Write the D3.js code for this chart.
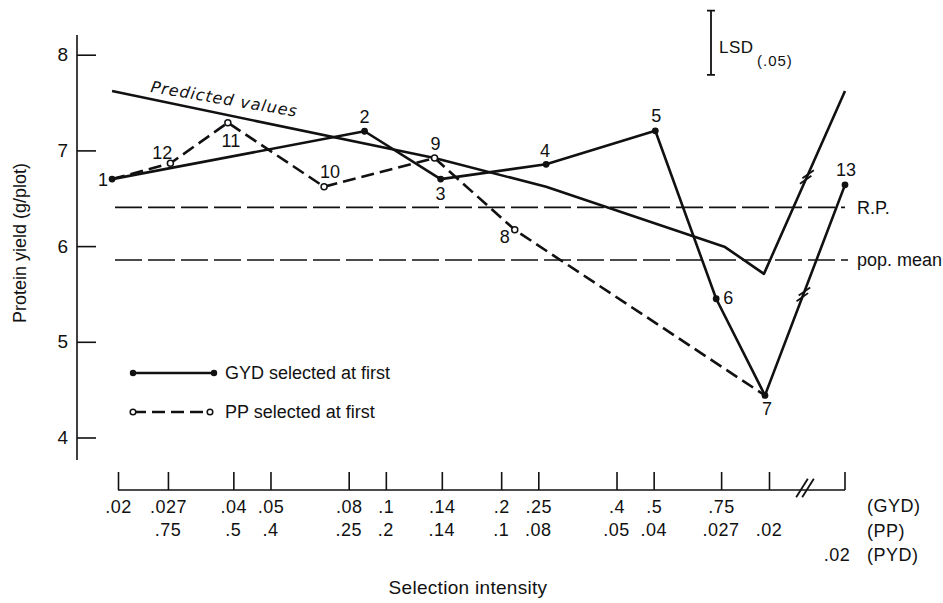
<!DOCTYPE html>
<html>
<head>
<meta charset="utf-8">
<script src="https://cdn.jsdelivr.net/npm/d3@7"></script>
<style>
  body { margin: 0; background: #fff; }
  svg { display: block; }
  text { font-family: "Liberation Sans Narrow", "Liberation Sans", Arial, sans-serif; font-stretch: condensed; fill: #111; }
</style>
</head>
<body>
<div id="chart"></div>
<script>
// selection intensity ticks (GYD scale, PP is the reciprocal reading)
var gydTicks = [0.02, 0.027, 0.04, 0.05, 0.08, 0.1, 0.14, 0.2, 0.25, 0.4, 0.5, 0.75, 1.0];
var gydLabels = [".02", ".027", ".04", ".05", ".08", ".1", ".14", ".2", ".25", ".4", ".5", ".75", ""];
var ppLabels = ["", ".75", ".5", ".4", ".25", ".2", ".14", ".1", ".08", ".05", ".04", ".027", ".02"];
var pydLabel = ".02";
var yTicks = [4, 5, 6, 7, 8];

// GYD selected at first (solid, filled dots); last point sits past the axis break
var gydIds = ["1", "2", "3", "4", "5", "6", "7"];
var gydX = [0.0193, 0.088, 0.139, 0.262, 0.505, 0.728, 0.976];
var gydY = [6.70, 7.20, 6.70, 6.855, 7.205, 5.45, 4.44];
var pydId = "13";
var pydY = 6.64;

// PP selected at first (dashed, open circles)
var ppIds = ["1", "12", "11", "10", "9", "8", "7"];
var ppX = [0.0193, 0.0274, 0.0387, 0.069, 0.134, 0.217, 0.976];
var ppY = [6.70, 6.865, 7.29, 6.62, 6.92, 6.17, 4.44];

// predicted values
var predX = [0.0193, 0.134, 0.262, 0.768, 0.97];
var predY = [7.62, 6.92, 6.62, 5.99, 5.71];
var predPydY = 7.62;

// reference levels
var rpValue = 6.405;
var popMean = 5.855;
var lsd = 0.67;

var width = 943, height = 603;

var svg = d3.select('#chart').append('svg')
    .attr('width', width)
    .attr('height', height);

var x = d3.scaleLog().domain([0.02, 1]).range([118, 769]);
var xPyd = 845;   // position past the break
var y = d3.scaleLinear().domain([4, 8]).range([437.5, 54.7]);

// y axis
svg.append('line')
    .attr('x1', 77).attr('x2', 77)
    .attr('y1', 35).attr('y2', 460)
    .attr('stroke', '#111').attr('stroke-width', 1.6);

var yAxis = svg.append('g')
    .attr('transform', 'translate(77,0)')
    .call(d3.axisLeft(y).tickValues(yTicks).tickSizeInner(-19).tickSizeOuter(0).tickPadding(9).tickFormat(d3.format('d')));
yAxis.select('.domain').remove();
yAxis.selectAll('.tick line').attr('stroke', '#111').attr('stroke-width', 1.6);
yAxis.selectAll('.tick text')
    .style('font-size', '19px').attr('fill', '#111');

svg.append('text')
    .attr('transform', 'translate(26,243) rotate(-90)')
    .attr('text-anchor', 'middle')
    .style('font-size', '18px')
    .text('Protein yield (g/plot)');

// x axis
var xBase = 490;
svg.append('line')
    .attr('x1', x(0.02)).attr('x2', xPyd)
    .attr('y1', xBase).attr('y2', xBase)
    .attr('stroke', '#111').attr('stroke-width', 1.6);

var xAxis = svg.append('g')
    .attr('transform', 'translate(0,' + xBase + ')')
    .call(d3.axisBottom(x).tickValues(gydTicks).tickSizeInner(-18).tickSizeOuter(0).tickPadding(10)
        .tickFormat(function(d, i) { return gydLabels[i]; }));
xAxis.select('.domain').remove();
xAxis.selectAll('.tick line').attr('stroke', '#111').attr('stroke-width', 1.6);
xAxis.selectAll('.tick text')
    .style('font-size', '18px').attr('fill', '#111')
    .attr('letter-spacing', 0.5);

// PYD tick after break
svg.append('line')
    .attr('x1', xPyd).attr('x2', xPyd)
    .attr('y1', xBase).attr('y2', xBase - 18)
    .attr('stroke', '#111').attr('stroke-width', 1.6);

// axis break marks
function breakMarks(cx, cy, angle, len, gap) {
    var a = angle * Math.PI / 180,
        ux = Math.cos(a), uy = -Math.sin(a);
    [-gap / 2, gap / 2].forEach(function(o) {
        svg.append('line')
            .attr('x1', cx + o - ux * len / 2).attr('y1', cy - uy * len / 2)
            .attr('x2', cx + o + ux * len / 2).attr('y2', cy + uy * len / 2)
            .attr('stroke', '#111').attr('stroke-width', 1.8);
    });
}
breakMarks(805, xBase - 2, 58, 22, 6);

// second and third label rows
svg.append('g').selectAll('text')
    .data(gydTicks)
    .join('text')
    .attr('x', function(d) { return x(d); })
    .attr('y', 536)
    .attr('text-anchor', 'middle')
    .style('font-size', '18px')
    .attr('letter-spacing', 0.5)
    .text(function(d, i) { return ppLabels[i]; });

svg.append('text')
    .attr('x', xPyd - 8).attr('y', 561)
    .attr('text-anchor', 'middle')
    .style('font-size', '18px')
    .attr('letter-spacing', 0.5)
    .text(pydLabel);

var rowNames = ['(GYD)', '(PP)', '(PYD)'];
svg.append('g').selectAll('text')
    .data(rowNames)
    .join('text')
    .attr('x', 867)
    .attr('y', function(d, i) { return 512 + i * 24.5; })
    .style('font-size', '18px')
    .attr('letter-spacing', 0.5)
    .text(function(d) { return d; });

svg.append('text')
    .attr('x', 468).attr('y', 594)
    .attr('text-anchor', 'middle')
    .style('font-size', '19px')
    .attr('letter-spacing', 0.3)
    .text('Selection intensity');

// reference lines
[[rpValue, 845, 'R.P.'], [popMean, 848, 'pop. mean']].forEach(function(r) {
    svg.append('line')
        .attr('x1', 115).attr('x2', r[1])
        .attr('y1', y(r[0])).attr('y2', y(r[0]))
        .attr('stroke', '#111').attr('stroke-width', 1.6)
        .attr('stroke-dasharray', '27,6');
    svg.append('text')
        .attr('x', 857).attr('y', y(r[0]))
        .attr('dy', '0.36em')
        .style('font-size', '18px')
        .text(r[2]);
});

// LSD bar
var lsdTop = 8.46, lsdX = 711;
svg.append('path')
    .attr('d', 'M' + (lsdX - 4) + ',' + y(lsdTop) + 'H' + (lsdX + 4) +
        'M' + lsdX + ',' + y(lsdTop) + 'V' + y(lsdTop - lsd) +
        'M' + (lsdX - 4) + ',' + y(lsdTop - lsd) + 'H' + (lsdX + 4))
    .attr('stroke', '#111').attr('stroke-width', 1.8).attr('fill', 'none');
svg.append('text')
    .attr('x', 719).attr('y', 53)
    .style('font-size', '17px').attr('letter-spacing', 0.5)
    .text('LSD');
svg.append('text')
    .attr('x', 757).attr('y', 66)
    .style('font-size', '15px').attr('letter-spacing', 1)
    .text('(.05)');

// series
var gyd = gydIds.map(function(id, i) { return {id: id, px: x(gydX[i]), py: y(gydY[i])}; });
var pp = ppIds.map(function(id, i) { return {id: id, px: x(ppX[i]), py: y(ppY[i])}; });
var pred = predX.map(function(v, i) { return {px: x(v), py: y(predY[i])}; });
var gydEnd = {id: pydId, px: xPyd, py: y(pydY)};
var predEnd = {px: xPyd, py: y(predPydY)};

var line = d3.line().x(function(d) { return d.px; }).y(function(d) { return d.py; });

svg.append('path')
    .attr('d', line(pred.concat([predEnd])))
    .attr('fill', 'none').attr('stroke', '#111').attr('stroke-width', 2.6)
    .attr('stroke-linejoin', 'round');

svg.append('path')
    .attr('d', line(pp))
    .attr('fill', 'none').attr('stroke', '#111').attr('stroke-width', 2.6)
    .attr('stroke-dasharray', '13,6');

svg.append('path')
    .attr('d', line(gyd.concat([gydEnd])))
    .attr('fill', 'none').attr('stroke', '#111').attr('stroke-width', 2.6)
    .attr('stroke-linejoin', 'round');

// break marks on the lines into the PYD point
function lineBreak(a, b, t) {
    var cx = a.px + (b.px - a.px) * t,
        cy = a.py + (b.py - a.py) * t;
    var dx = b.px - a.px, dy = b.py - a.py, L = Math.hypot(dx, dy);
    var tx = dx / L, ty = dy / L;
    [-3, 3].forEach(function(o) {
        var mx = cx + tx * o, my = cy + ty * o;
        var ang = -35 * Math.PI / 180;
        svg.append('line')
            .attr('x1', mx - Math.cos(ang) * 7).attr('y1', my - Math.sin(ang) * 7)
            .attr('x2', mx + Math.cos(ang) * 7).attr('y2', my + Math.sin(ang) * 7)
            .attr('stroke', '#111').attr('stroke-width', 1.8);
    });
}
lineBreak(pred[pred.length - 1], predEnd, 0.53);
lineBreak(gyd[gyd.length - 1], gydEnd, 0.48);

// markers
svg.append('g').selectAll('circle')
    .data(gyd.concat([gydEnd]))
    .join('circle')
    .attr('cx', function(d) { return d.px; })
    .attr('cy', function(d) { return d.py; })
    .attr('r', 3.4)
    .attr('fill', '#111');

svg.append('g').selectAll('circle')
    .data(pp.slice(1, -1))
    .join('circle')
    .attr('cx', function(d) { return d.px; })
    .attr('cy', function(d) { return d.py; })
    .attr('r', 3)
    .attr('fill', '#fff').attr('stroke', '#111').attr('stroke-width', 1.5);

// point labels
var labelOffset = {
    '1': [-9, 0], '2': [0, -15], '3': [0, 14], '4': [-1, -14], '5': [1, -15],
    '6': [12, -1], '7': [2, 13], '8': [-10, 7], '9': [1, -15], '10': [6, -15],
    '11': [3, 18], '12': [-8, -11], '13': [1, -15]
};
var labelled = gyd.concat(pp.slice(1, -1), [gydEnd]);
svg.append('g').selectAll('text')
    .data(labelled)
    .join('text')
    .attr('x', function(d) { return d.px + labelOffset[d.id][0]; })
    .attr('y', function(d) { return d.py + labelOffset[d.id][1]; })
    .attr('dy', '0.36em')
    .attr('text-anchor', 'middle')
    .style('font-size', '18px')
    .text(function(d) { return d.id; });

// predicted values caption
svg.append('text')
    .attr('transform', 'translate(150,92) rotate(9.6)')
    .style('font-family', '"DejaVu Sans", sans-serif')
    .style('font-stretch', 'normal')
    .style('font-style', 'italic')
    .style('font-size', '16px')
    .attr('letter-spacing', 1)
    .text('Predicted values');

// legend
var legend = svg.append('g');
legend.append('line')
    .attr('x1', 133).attr('x2', 214).attr('y1', 373).attr('y2', 373)
    .attr('stroke', '#111').attr('stroke-width', 2.6);
legend.selectAll('circle.g')
    .data([133, 214])
    .join('circle')
    .attr('cx', function(d) { return d; }).attr('cy', 373).attr('r', 3.2)
    .attr('fill', '#111');
legend.append('line')
    .attr('x1', 133).attr('x2', 210).attr('y1', 412).attr('y2', 412)
    .attr('stroke', '#111').attr('stroke-width', 2.6)
    .attr('stroke-dasharray', '13,6');
[[133, 412], [210, 412]].forEach(function(p) {
    legend.append('circle')
        .attr('cx', p[0]).attr('cy', p[1]).attr('r', 2.8)
        .attr('fill', '#fff').attr('stroke', '#111').attr('stroke-width', 1.5);
});
legend.append('text')
    .attr('x', 225).attr('y', 373).attr('dy', '0.36em')
    .style('font-size', '18px')
    .text('GYD selected at first');
legend.append('text')
    .attr('x', 225).attr('y', 412).attr('dy', '0.36em')
    .style('font-size', '18px')
    .text('PP selected at first');
</script>
</body>
</html>
